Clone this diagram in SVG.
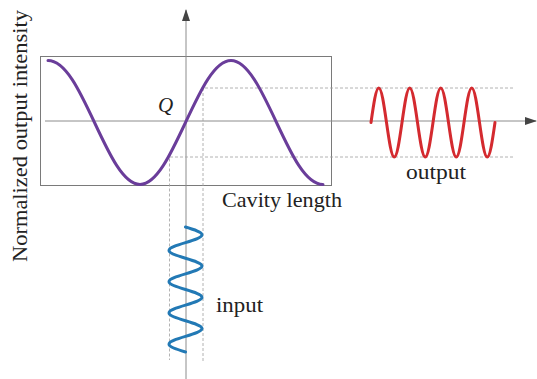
<svg xmlns="http://www.w3.org/2000/svg" width="537" height="379" viewBox="0 0 537 379">
<style>
  .axis { stroke: #8c8c8c; stroke-width: 1; fill: none; }
  .dash { stroke: #a0a0a0; stroke-width: 0.8; stroke-dasharray: 3 2; fill: none; }
  .lbl { font-family: "Liberation Serif", "Times New Roman", serif; font-size: 21px; fill: #222; }
  .wave { fill: none; stroke-width: 3; stroke-linecap: round; stroke-linejoin: round; }
</style>
<defs>
  <marker id="arr" viewBox="0 0 12 8" refX="11" refY="4" markerWidth="12" markerHeight="8" markerUnits="userSpaceOnUse" orient="auto">
    <path d="M0,0 L12,4 L0,8 Z" fill="#444"/>
  </marker>
</defs>
<rect width="537" height="379" fill="#ffffff"/>

<g id="frame">
  <rect x="40.5" y="56.5" width="291" height="129" fill="none" stroke="#7a7a7a" stroke-width="1"/>
</g>

<g id="connectors">
  <line class="axis" x1="45" y1="121" x2="536" y2="121" marker-end="url(#arr)"/>
  <line class="axis" x1="186" y1="379" x2="186" y2="10" marker-end="url(#arr)"/>
  <polyline class="dash" points="513,88 203,88 203,363"/>
  <polyline class="dash" points="513,157 169.5,157 169.5,360"/>
</g>

<g id="transfer-curve">
  <path class="wave" stroke="#6a3d9a" d="M48,60.5 C65.47,60.5 79.66,90.74 94.5,122.5 C109.34,154.26 123.53,184.5 140,184.5 C156.47,184.5 170.66,154.26 185.5,122.5 C200.34,90.74 214.53,60.5 231,60.5 C247.47,60.5 261.66,90.74 276.5,122.5 C291.34,154.26 305.53,184.5 323,184.5"/>
</g>

<g id="output-wave">
  <path class="wave" stroke="#d42a2f" d="M371,122.5
    c2.527,-17.67 4.945,-34.5 7.75,-34.5 c2.805,0 5.223,16.83 7.75,34.5 c2.527,17.67 4.945,34.5 7.75,34.5 c2.805,0 5.223,-16.83 7.75,-34.5
    c2.527,-17.67 4.945,-34.5 7.75,-34.5 c2.805,0 5.223,16.83 7.75,34.5 c2.527,17.67 4.945,34.5 7.75,34.5 c2.805,0 5.223,-16.83 7.75,-34.5
    c2.527,-17.67 4.945,-34.5 7.75,-34.5 c2.805,0 5.223,16.83 7.75,34.5 c2.527,17.67 4.945,34.5 7.75,34.5 c2.805,0 5.223,-16.83 7.75,-34.5
    c2.527,-17.67 4.945,-34.5 7.75,-34.5 c2.805,0 5.223,16.83 7.75,34.5 c2.527,17.67 4.945,34.5 7.75,34.5 c2.805,0 5.223,-16.83 7.75,-34.5"/>
  <text class="lbl" x="406" y="179" textLength="60" lengthAdjust="spacingAndGlyphs">output</text>
</g>

<g id="input-wave">
  <path class="wave" stroke="#2279b5" d="M185.5,227
    c8.45,2.548 16.5,4.985 16.5,7.8125 c0,2.827 -8.05,5.265 -16.5,7.8125 c-8.45,2.548 -16.5,4.985 -16.5,7.8125 c0,2.827 8.05,5.265 16.5,7.8125
    c8.45,2.548 16.5,4.985 16.5,7.8125 c0,2.827 -8.05,5.265 -16.5,7.8125 c-8.45,2.548 -16.5,4.985 -16.5,7.8125 c0,2.827 8.05,5.265 16.5,7.8125
    c8.45,2.548 16.5,4.985 16.5,7.8125 c0,2.827 -8.05,5.265 -16.5,7.8125 c-8.45,2.548 -16.5,4.985 -16.5,7.8125 c0,2.827 8.05,5.265 16.5,7.8125
    c8.45,2.548 16.5,4.985 16.5,7.8125 c0,2.827 -8.05,5.265 -16.5,7.8125 c-8.45,2.548 -16.5,4.985 -16.5,7.8125 c0,2.827 8.05,5.265 16.5,7.8125"/>
  <text class="lbl" x="216" y="311.5" textLength="47" lengthAdjust="spacingAndGlyphs">input</text>
</g>

<g id="labels">
  <text class="lbl" transform="translate(27,136) rotate(-90)" text-anchor="middle" textLength="252" lengthAdjust="spacingAndGlyphs">Normalized output intensity</text>
  <text class="lbl" x="222" y="207" textLength="120" lengthAdjust="spacingAndGlyphs">Cavity length</text>
  <text class="lbl" x="158" y="111.5" font-style="italic" font-size="19px">Q</text>
</g>
</svg>
